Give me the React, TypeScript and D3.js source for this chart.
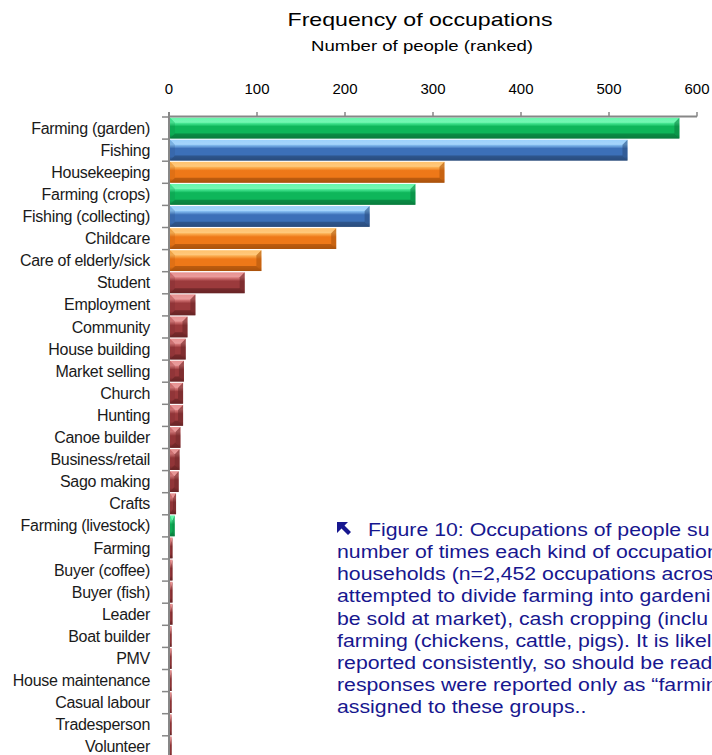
import React from "react";
import * as d3 from "d3";

// Occupations, ranked by how many people reported each one
const categories = [
  "Farming (garden)", "Fishing", "Housekeeping", "Farming (crops)", "Fishing (collecting)",
  "Childcare", "Care of elderly/sick", "Student", "Employment", "Community",
  "House building", "Market selling", "Church", "Hunting", "Canoe builder",
  "Business/retail", "Sago making", "Crafts", "Farming (livestock)", "Farming",
  "Buyer (coffee)", "Buyer (fish)", "Leader", "Boat builder", "PMV",
  "House maintenance", "Casual labour", "Tradesperson", "Volunteer",
];
const counts = [
  580, 521, 313, 280, 228,
  190, 105, 86, 30, 21,
  19, 17, 16, 16, 13,
  12, 11, 8, 6.5, 4,
  4, 4, 4, 3, 3,
  3, 3, 3, 3,
];
// Colour family of each bar: farming, fishing, household care, other
const families = [
  "farm", "fish", "care", "farm", "fish",
  "care", "care", "other", "other", "other",
  "other", "other", "other", "other", "other",
  "other", "other", "other", "farm", "other",
  "other", "other", "other", "other", "other",
  "other", "other", "other", "other",
];
const axisTicks = [0, 100, 200, 300, 400, 500, 600];

const captionFirst = "Figure 10: Occupations of people su";
const captionLines = [
  "number of times each kind of occupation",
  "households (n=2,452 occupations acros",
  "attempted to divide farming into gardeni",
  "be sold at market), cash cropping (inclu",
  "farming (chickens, cattle, pigs). It is likel",
  "reported consistently, so should be read",
  "responses were reported only as \u201cfarmin",
  "assigned to these groups..",
];

const palette: Record<string, { light: string; main: string; dark: string }> = {
  farm: { light: "#45f59a", main: "#0eb65a", dark: "#0a7c3e" },
  fish: { light: "#86c6fa", main: "#3c70b8", dark: "#2a4c7c" },
  care: { light: "#ffb54e", main: "#ee7818", dark: "#a9520c" },
  other: { light: "#e27a7a", main: "#9b3a3c", dark: "#682426" },
};

const W = 712;
const H = 755;
const FONT = "'Liberation Sans', Arial, Helvetica, sans-serif";

export default function App() {
  const x = d3.scaleLinear().domain([0, 600]).range([169, 697]);
  const step = 22.1;
  const y = d3
    .scaleBand<string>()
    .domain(categories)
    .range([117, 117 + step * categories.length])
    .paddingInner(0.06)
    .paddingOuter(0.03);

  const axisColor = "#878787";
  const bev = 5;

  return (
    <svg
      width={W}
      height={H}
      style={{ position: "absolute", left: 0, top: 0, background: "#fff" }}
      fontFamily={FONT}
    >
      <defs>
        {Object.entries(palette).map(([k, c]) => (
          <linearGradient key={k} id={`grad-${k}`} x1="0" y1="0" x2="0" y2="1">
            <stop offset="0" stopColor={c.light} />
            <stop offset="0.22" stopColor={c.light} stopOpacity="0.9" />
            <stop offset="0.42" stopColor={c.main} />
            <stop offset="0.8" stopColor={c.main} />
            <stop offset="1" stopColor={c.dark} />
          </linearGradient>
        ))}
      </defs>

      {/* Titles */}
      <text x={420} y={26} fontSize={19} textAnchor="middle" textLength={265} lengthAdjust="spacingAndGlyphs" fill="#000">
        Frequency of occupations
      </text>
      <text x={422} y={51} fontSize={15} textAnchor="middle" textLength={222} lengthAdjust="spacingAndGlyphs" fill="#000">
        Number of people (ranked)
      </text>

      {/* Bars */}
      {categories.map((cat, i) => {
        const x0 = x(0) + 1;
        const w = Math.max(0, x(counts[i]) - x0);
        const yt = y(cat)!;
        const h = y.bandwidth();
        const bx = Math.min(bev, w / 2);
        const by = Math.min(bev, h / 2);
        const x1 = x0 + w;
        const yb = yt + h;
        const c = palette[families[i]];
        return (
          <g key={cat}>
            <rect x={x0} y={yt} width={w} height={h} fill={`url(#grad-${families[i]})`} />
            {/* bevel facets */}
            <polygon
              points={`${x0},${yt} ${x1},${yt} ${x1 - bx},${yt + by} ${x0 + bx},${yt + by}`}
              fill="#fff"
              opacity={0.18}
            />
            <polygon
              points={`${x0},${yb} ${x1},${yb} ${x1 - bx},${yb - by} ${x0 + bx},${yb - by}`}
              fill={c.dark}
              opacity={0.75}
            />
            <polygon
              points={`${x1},${yt} ${x1 - bx},${yt + by} ${x1 - bx},${yb - by} ${x1},${yb}`}
              fill={c.dark}
              opacity={0.55}
            />
            <polygon
              points={`${x0},${yt} ${x0 + bx},${yt + by} ${x0 + bx},${yb - by} ${x0},${yb}`}
              fill={c.dark}
              opacity={0.2}
            />
          </g>
        );
      })}

      {/* Category axis */}
      <line x1={x(0)} x2={x(0)} y1={112} y2={H + 10} stroke={axisColor} strokeWidth={2} />
      {d3.range(categories.length + 1).map((i) => {
        const yy = 117 + i * step;
        return <line key={i} x1={162} x2={x(0)} y1={yy} y2={yy} stroke={axisColor} strokeWidth={1.5} />;
      })}
      {categories.map((cat) => (
        <text
          key={cat}
          x={150}
          y={y(cat)! + y.bandwidth() / 2}
          dy="0.35em"
          fontSize={16}
          letterSpacing={-0.3}
          textAnchor="end"
          fill="#1a1a1a"
        >
          {cat}
        </text>
      ))}

      {/* Value axis along the top */}
      <line x1={x(0)} x2={x(600)} y1={116.5} y2={116.5} stroke={axisColor} strokeWidth={2} />
      {axisTicks.map((t) => (
        <g key={t}>
          <line x1={x(t)} x2={x(t)} y1={112} y2={116.5} stroke={axisColor} strokeWidth={1.5} />
          <text x={x(t)} y={94} fontSize={15} textAnchor="middle" fill="#000">
            {t}
          </text>
        </g>
      ))}

      {/* Figure caption */}
      <path d="M337,522 L348,522 L344.5,525.5 L351,532 L348,535 L341.5,528.5 L337,533 Z" fill="#17178f" />
      <g transform="translate(337,0) scale(1.15,1)" fontSize={18.5} fill="#17178f">
        <text x={(368 - 337) / 1.15} y={536}>
          {captionFirst}
        </text>
        {captionLines.map((line, i) => (
          <text key={i} x={0} y={558 + i * 22.2}>
            {line}
          </text>
        ))}
      </g>
    </svg>
  );
}
